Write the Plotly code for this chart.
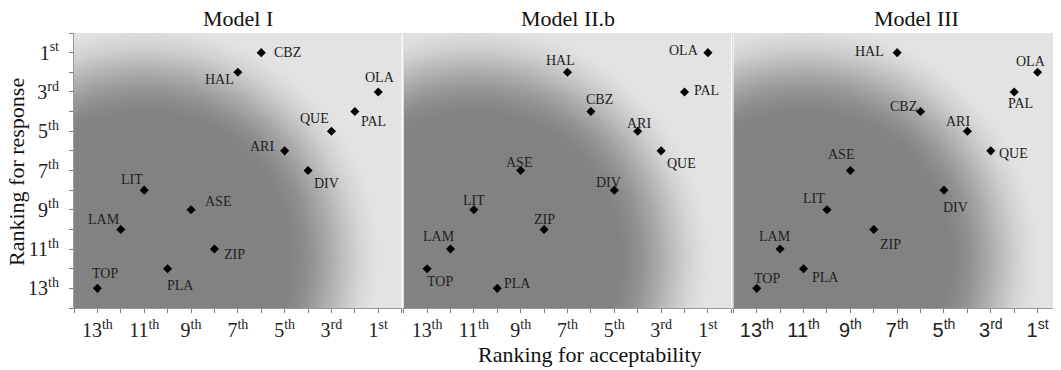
import numpy as np
import plotly.graph_objects as go

# ---------------- data ----------------
models = ["Model I", "Model II.b", "Model III"]
drugs_I = ["CBZ", "HAL", "OLA", "PAL", "QUE", "ARI", "DIV", "LIT", "ASE", "LAM", "ZIP", "PLA", "TOP"]
accept_I = [6, 7, 1, 2, 3, 5, 4, 11, 9, 12, 8, 10, 13]
response_I = [1, 2, 3, 4, 5, 6, 7, 8, 9, 10, 11, 12, 13]

drugs_II = ["OLA", "HAL", "PAL", "CBZ", "ARI", "QUE", "ASE", "DIV", "LIT", "ZIP", "LAM", "TOP", "PLA"]
accept_II = [1, 7, 2, 6, 4, 3, 9, 5, 11, 8, 12, 13, 10]
response_II = [1, 2, 3, 4, 5, 6, 7, 8, 9, 10, 11, 12, 13]

drugs_III = ["HAL", "OLA", "PAL", "CBZ", "ARI", "QUE", "ASE", "DIV", "LIT", "ZIP", "LAM", "PLA", "TOP"]
accept_III = [7, 1, 2, 6, 4, 3, 9, 5, 10, 8, 12, 11, 13]
response_III = [1, 2, 3, 4, 5, 6, 7, 8, 9, 10, 11, 12, 13]

rank_values = [1, 3, 5, 7, 9, 11, 13]
rank_labels = ["1<sup>st</sup>", "3<sup>rd</sup>", "5<sup>th</sup>", "7<sup>th</sup>",
               "9<sup>th</sup>", "11<sup>th</sup>", "13<sup>th</sup>"]

# label offsets in pixels (style only): (dx, dy) of text centre from point, dy>0 = up
off_I = [(26, 0), (-18, -7), (2, 14), (19, -10), (-17, 13), (-23, 4), (18, -13),
         (-12, 11), (27, 8), (-17, 10), (20, -5), (13, -17), (8, 15)]
off_II = [(-24, 2), (-7, 12), (22, 1), (9, 12), (1, 8), (20, -13), (-2, 8),
          (-6, 8), (0, 9), (0, 10), (-11, 13), (13, -13), (20, 5)]
off_III = [(-28, 1), (-7, 11), (6, -12), (-17, 5), (-9, 10), (23, -3), (-9, 16),
           (12, -17), (-13, 11), (17, -15), (-5, 13), (22, -9), (10, 10)]

panels = [
    (drugs_I, accept_I, response_I, off_I),
    (drugs_II, accept_II, response_II, off_II),
    (drugs_III, accept_III, response_III, off_III),
]

# ---------------- layout geometry ----------------
PAGE = 8  # default body margin of the html page
W, H = 1061 - PAGE, 370 - PAGE
ML, MR, MT, MB = 74 - PAGE, 0, 33 - PAGE, 62
PW = W - ML - MR
PH = H - MT - MB


def px_to_paper_x(px):
    return (px - PAGE - ML) / PW


def py_to_paper_y(py):
    return (PAGE + H - MB - py) / PH


gap = 2 / PW
pw = (1 - 2 * gap) / 3
domains = [[0, pw], [pw + gap, 2 * pw + gap], [2 * pw + 2 * gap, 1]]
XR = [14, 0]
YR = [14, 0]
sx = pw * PW / 14.0   # pixels per x unit
sy = PH / 14.0        # pixels per y unit

# background radial shading (decorative)
gx = np.linspace(0, 14, 141)
gy = np.linspace(0, 14, 141)
GX, GY = np.meshgrid(gx, gy)
dx = (11.0 - GX) * sx
dy = (11.45 - GY) * sy
r = np.sqrt(dx ** 2 + dy ** 2)
r1, r2 = 140.0, 240.0
t = np.clip((r - r1) / (r2 - r1), 0, 1)
shade = t * t * (3 - 2 * t)

fig = go.Figure()
serif = "Liberation Serif, Times New Roman, serif"
sans = "Liberation Sans, Arial, sans-serif"

annots = []
for i, (names, xs, ys, offs) in enumerate(panels):
    xa = "x" if i == 0 else f"x{i+1}"
    ya = "y" if i == 0 else f"y{i+1}"
    fig.add_trace(go.Heatmap(
        x=gx, y=gy, z=shade, xaxis=xa, yaxis=ya, zsmooth="best",
        colorscale=[[0, "rgb(130,130,130)"], [0.5, "rgb(178,178,178)"], [1, "rgb(227,227,227)"]],
        zmin=0, zmax=1, showscale=False, hoverinfo="skip"))
    fig.add_trace(go.Scatter(
        x=xs, y=ys, mode="markers", xaxis=xa, yaxis=ya, showlegend=False,
        hovertext=names, marker=dict(symbol="diamond", size=7, color="black")))
    for name, xv, yv, (ox, oy) in zip(names, xs, ys, offs):
        annots.append(dict(text=name, x=xv, y=yv, xref=xa, yref=ya, showarrow=False,
                           xanchor="center", yanchor="middle", xshift=ox, yshift=oy,
                           font=dict(family=serif, size=14, color="#222")))

    axkey = "xaxis" if i == 0 else f"xaxis{i+1}"
    aykey = "yaxis" if i == 0 else f"yaxis{i+1}"
    minor = dict(tick0=0, dtick=1, ticks="outside", ticklen=4, tickcolor="#777", showgrid=False)
    fig.update_layout(**{
        axkey: dict(domain=domains[i], range=XR, anchor=ya, tickmode="array",
                    tickvals=rank_values, ticktext=rank_labels, ticks="outside",
                    ticklen=4, tickcolor="#777", showline=True, linecolor="#999",
                    showgrid=False, zeroline=False, minor=minor,
                    tickfont=dict(family=(sans if i == 2 else serif), size=20, color="#222")),
        aykey: dict(domain=[0, 1], range=YR, anchor=xa, tickmode="array",
                    tickvals=rank_values, ticktext=rank_labels,
                    showticklabels=(i == 0),
                    ticks="outside" if i == 0 else "", ticklen=4, tickcolor="#777",
                    minor=(minor if i == 0 else dict(ticks="")),
                    showline=True, linecolor=("#999" if i == 0 else "#ddd"),
                    showgrid=False, zeroline=False, ticklabelstandoff=6,
                    tickfont=dict(family=serif, size=20, color="#222")),
    })

for m, tx in zip(models, [238, 568, 916]):
    annots.append(dict(text=m, x=px_to_paper_x(tx), y=py_to_paper_y(18), xref="paper", yref="paper",
                       showarrow=False, xanchor="center", yanchor="middle",
                       font=dict(family=serif, size=22, color="#111")))
annots.append(dict(text="Ranking for acceptability", x=px_to_paper_x(590), y=py_to_paper_y(354),
                   xref="paper", yref="paper", showarrow=False, xanchor="center", yanchor="middle",
                   font=dict(family=serif, size=22, color="#111")))
annots.append(dict(text="Ranking for response", x=px_to_paper_x(17), y=py_to_paper_y(172),
                   xref="paper", yref="paper", textangle=-90,
                   showarrow=False, xanchor="center", yanchor="middle",
                   font=dict(family=serif, size=22, color="#111")))

fig.update_layout(width=W, height=H, margin=dict(l=ML, r=MR, t=MT, b=MB),
                  paper_bgcolor="white", plot_bgcolor="white", annotations=annots,
                  showlegend=False)

fig.write_html("out.html")
